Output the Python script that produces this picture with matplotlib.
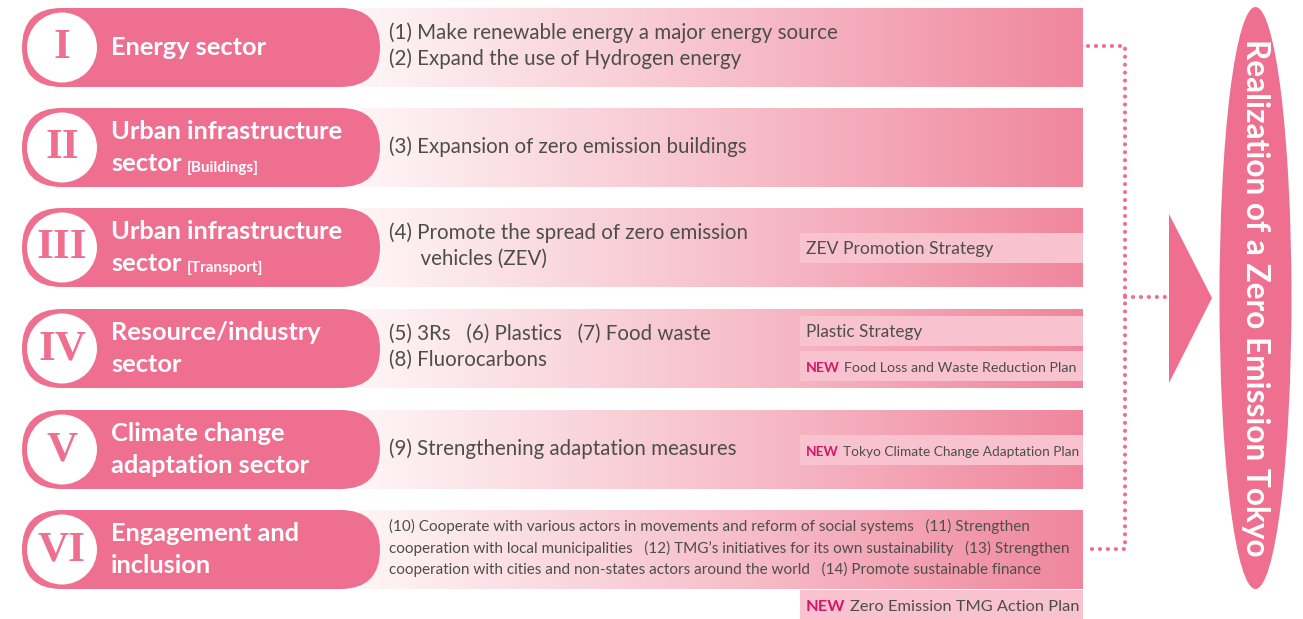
import numpy as np
import matplotlib.pyplot as plt
from matplotlib.patches import FancyBboxPatch, Circle, Polygon, Ellipse, Rectangle
from matplotlib.colors import LinearSegmentedColormap

plt.rcParams['font.family'] = ['Lato', 'DejaVu Sans']

# diagram content
numerals = ["I", "II", "III", "IV", "V", "VI"]
title_line1 = ["Energy sector", "Urban infrastructure", "Urban infrastructure",
               "Resource/industry", "Climate change", "Engagement and"]
title_line2 = ["", "sector", "sector", "sector", "adaptation sector", "inclusion"]
title_tag = ["", "[Buildings]", "[Transport]", "", "", ""]

measures = [
    ["(1) Make renewable energy a major energy source",
     "(2) Expand the use of Hydrogen energy"],
    ["(3) Expansion of zero emission buildings"],
    ["(4) Promote the spread of zero emission",
     "      vehicles (ZEV)"],
    ["(5) 3Rs   (6) Plastics   (7) Food waste",
     "(8) Fluorocarbons"],
    ["(9) Strengthening adaptation measures"],
    ["(10) Cooperate with various actors in movements and reform of social systems   (11) Strengthen",
     "cooperation with local municipalities   (12) TMG\u2019s initiatives for its own sustainability   (13) Strengthen",
     "cooperation with cities and non-states actors around the world   (14) Promote sustainable finance"],
]

plan_names = ["ZEV Promotion Strategy", "Plastic Strategy",
              "Food Loss and Waste Reduction Plan",
              "Tokyo Climate Change Adaptation Plan",
              "Zero Emission TMG Action Plan"]
plan_new = [False, False, True, True, True]
plan_row = [2, 3, 3, 4, 5]

goal_text = "Realization of a Zero Emission Tokyo"

# layout (pixels)
pink = "#ef6f91"
row_top = [8, 108, 208, 309, 410, 510]
row_h = 79
plan_dy = [25, 7, 42, 25, 80]
plan_fs = [12.6, 12.3, 10.3, 9.8, 11.8]

fig = plt.figure(figsize=(13.03, 6.19), dpi=100)
ax = fig.add_axes([0, 0, 1, 1])
ax.axis('off')

band_cmap = LinearSegmentedColormap.from_list("band", ["#fef5f7", "#f7c1cc", "#f0869d"])
grad = np.linspace(0, 1, 256).reshape(1, -1)

for i in range(len(numerals)):
    top = row_top[i]
    cy = top + row_h / 2

    # gradient band
    ax.imshow(grad, cmap=band_cmap, aspect='auto',
              extent=(360, 1083, top + row_h, top), zorder=1)

    # pill with numeral
    ax.add_patch(FancyBboxPatch((22, top), 358, row_h,
                                boxstyle="round,pad=0,rounding_size=39.5",
                                fc=pink, ec='none', zorder=2))
    ax.add_patch(Circle((62, cy), 35, fc='white', ec='none', zorder=3))
    ax.text(62, cy + 1, numerals[i], ha='center', va='center', color=pink,
            fontsize=31, family='Liberation Serif', fontweight='bold', zorder=4)

    # sector title
    if title_line2[i] == "":
        ax.text(111, cy, title_line1[i], ha='left', va='center', color='white',
                fontsize=18.3, fontweight='bold', zorder=4)
    else:
        ax.text(111, cy - 16, title_line1[i], ha='left', va='center', color='white',
                fontsize=18.3, fontweight='bold', zorder=4)
        t2 = ax.text(111, cy + 16, title_line2[i], ha='left', va='center', color='white',
                     fontsize=18.3, fontweight='bold', zorder=4)
        if title_tag[i]:
            ax.annotate(title_tag[i], xy=(1, 0), xycoords=t2, xytext=(4, 0),
                        textcoords='offset points', ha='left', va='bottom',
                        color='white', fontsize=11, fontweight='bold', zorder=4)

    # measures
    lines = measures[i]
    if len(lines) == 1:
        ys = [cy - 1]
    elif len(lines) == 2:
        ys = [cy - 15, cy + 11]
    else:
        ys = [cy - 23, cy - 1, cy + 20]
    fs = 11 if len(lines) == 3 else 14.8
    for y, s in zip(ys, lines):
        ax.text(389, y, s, ha='left', va='center', color='#4d4d4d',
                fontsize=fs, fontweight='normal', zorder=4)

# plan boxes
for j in range(len(plan_names)):
    y0 = row_top[plan_row[j]] + plan_dy[j]
    ax.add_patch(Rectangle((800, y0), 283, 30, fc='#f8c3ce', ec='none', zorder=3))
    if plan_new[j]:
        t = ax.text(806, y0 + 21, "NEW", ha='left', va='baseline', color='#d4176a',
                    fontsize=plan_fs[j], fontweight='bold', zorder=4)
        ax.annotate(plan_names[j], xy=(1, 0), xycoords=t, xytext=(3, 0),
                    textcoords='offset points', ha='left', va='bottom',
                    color='#4d4d4d', fontsize=plan_fs[j], zorder=4)
    else:
        ax.text(806, y0 + 21, plan_names[j], ha='left', va='baseline', color='#4d4d4d',
                fontsize=plan_fs[j], zorder=4)

# dotted connectors
dot = dict(color=pink, lw=3, linestyle=(0, (0.01, 1.9)), dash_capstyle='round', zorder=2)
ax.plot([1088, 1125, 1125, 1088], [46, 46, 549, 549], **dot)
ax.plot([1125, 1165], [297, 297], **dot)

# arrow and goal
ax.add_patch(Polygon([(1169, 214), (1212, 298), (1169, 383)], closed=True,
                     fc=pink, ec='none', zorder=2))
ax.add_patch(Ellipse((1255.5, 298), 72, 582, fc=pink, ec='none', zorder=2))
ax.text(1255.5, 298, goal_text, rotation=-90, ha='center', va='center',
        color='white', fontsize=22.8, fontweight='bold', zorder=4)

ax.set_xlim(0, 1303)
ax.set_ylim(619, 0)

fig.savefig("out.png", dpi=100)
